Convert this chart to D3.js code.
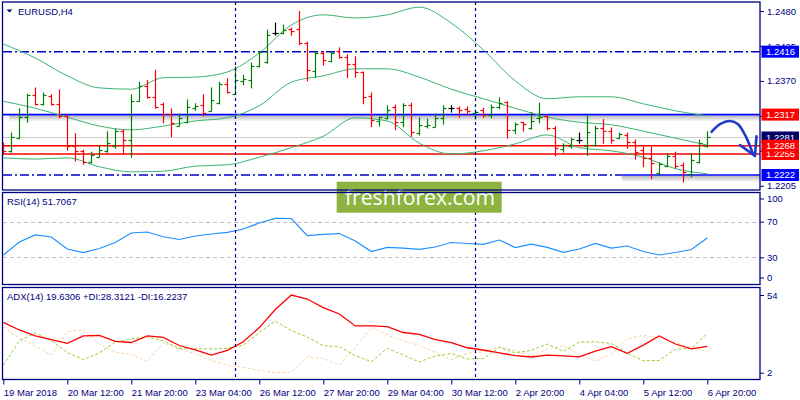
<!DOCTYPE html>
<html><head><meta charset="utf-8">
<script src="https://cdn.jsdelivr.net/npm/d3@7"></script>
<style>
body{margin:0;background:#fff;}
svg{display:block;font-family:"Liberation Sans",Arial,sans-serif;}
</style>
</head><body>
<svg id="c" width="800" height="400"></svg>
<script>
// ---------------- DATA (EURUSD H4) ----------------
const symbol = "EURUSD,H4";
const open = [1.2266,1.2260,1.2280,1.2313,1.2348,1.2334,1.2346,1.2334,1.2315,1.2268,
1.2260,1.2242,1.2250,1.2260,1.2268,1.2291,1.2277,1.2338,1.2362,1.2345,
1.2334,1.2318,1.2299,1.2305,1.2327,1.2332,1.2323,1.2335,1.2365,1.2349,
1.2370,1.2371,1.2394,1.2400,1.2445,1.2445,1.2452,1.2452,1.2430,1.2386,
1.2414,1.2401,1.2417,1.2408,1.2397,1.2384,1.2346,1.2307,1.2312,1.2329,
1.2305,1.2332,1.2288,1.2299,1.2298,1.2312,1.2327,1.2327,1.2326,1.2320,
1.2324,1.2316,1.2329,1.2337,1.2293,1.2305,1.2296,1.2312,1.2315,1.2296,
1.2263,1.2268,1.2277,1.2268,1.2269,1.2296,1.2291,1.2280,1.2285,1.2274,
1.2261,1.2249,1.2225,1.2236,1.2252,1.2238,1.2224,1.2242,1.2268];
const high = [1.2272,1.2288,1.2326,1.2349,1.2359,1.2351,1.2348,1.2356,1.2316,1.2287,
1.2261,1.2258,1.2268,1.2290,1.2294,1.2293,1.2348,1.2368,1.2371,1.2387,
1.2335,1.2326,1.2318,1.2340,1.2334,1.2348,1.2359,1.2368,1.2373,1.2392,
1.2379,1.2398,1.2416,1.2450,1.2461,1.2458,1.2453,1.2479,1.2431,1.2416,
1.2416,1.2416,1.2422,1.2411,1.2408,1.2384,1.2351,1.2313,1.2331,1.2332,
1.2334,1.2335,1.2312,1.2310,1.2318,1.2331,1.2331,1.2329,1.2329,1.2324,
1.2327,1.2332,1.2343,1.2337,1.2304,1.2305,1.2320,1.2335,1.2316,1.2298,
1.2271,1.2280,1.2288,1.2315,1.2299,1.2309,1.2296,1.2288,1.2288,1.2277,
1.2266,1.2266,1.2241,1.2255,1.2258,1.2241,1.2255,1.2277,1.2290];
const low = [1.2255,1.2258,1.2279,1.2305,1.2332,1.2332,1.2332,1.2312,1.2261,1.2244,
1.2239,1.2241,1.2250,1.2258,1.2264,1.2255,1.2250,1.2338,1.2343,1.2327,
1.2304,1.2282,1.2299,1.2304,1.2324,1.2315,1.2323,1.2334,1.2351,1.2349,
1.2364,1.2359,1.2392,1.2398,1.2442,1.2444,1.2442,1.2427,1.2370,1.2376,
1.2395,1.2400,1.2406,1.2375,1.2376,1.2334,1.2298,1.2299,1.2310,1.2293,
1.2298,1.2283,1.2285,1.2296,1.2298,1.2302,1.2321,1.2313,1.2316,1.2310,
1.2313,1.2312,1.2326,1.2280,1.2287,1.2291,1.2294,1.2304,1.2293,1.2252,
1.2258,1.2264,1.2272,1.2253,1.2268,1.2272,1.2272,1.2279,1.2264,1.2247,
1.2235,1.2216,1.2222,1.2235,1.2233,1.2211,1.2219,1.2241,1.2266];
const close = [1.2260,1.2282,1.2313,1.2348,1.2334,1.2348,1.2334,1.2315,1.2268,1.2260,
1.2242,1.2253,1.2261,1.2272,1.2291,1.2277,1.2338,1.2362,1.2345,1.2329,
1.2318,1.2304,1.2312,1.2329,1.2331,1.2320,1.2340,1.2365,1.2353,1.2371,
1.2373,1.2394,1.2416,1.2442,1.2445,1.2450,1.2449,1.2430,1.2387,1.2414,
1.2403,1.2414,1.2408,1.2397,1.2384,1.2345,1.2309,1.2313,1.2324,1.2305,
1.2332,1.2290,1.2301,1.2301,1.2312,1.2327,1.2327,1.2324,1.2323,1.2321,
1.2316,1.2329,1.2335,1.2293,1.2302,1.2302,1.2307,1.2313,1.2296,1.2265,
1.2269,1.2279,1.2277,1.2290,1.2296,1.2291,1.2277,1.2287,1.2274,1.2258,
1.2249,1.2241,1.2239,1.2252,1.2236,1.2227,1.2246,1.2272,1.2281];

// Bollinger bands (sampled every 4 bars)
const bbStep = 4;
const bbUpper = [1.2428,1.2406,1.2378,1.2359,1.2357,1.2375,1.2376,1.2384,1.2414,1.2458,1.2474,1.2469,1.2474,1.2486,1.2461,1.2419,1.2370,1.2342,1.2345,1.2345,1.2334,1.2323,1.2315];
const bbMiddle = [1.2338,1.2327,1.2313,1.2299,1.2293,1.2299,1.2307,1.2312,1.2331,1.2368,1.2378,1.2389,1.2389,1.2376,1.2357,1.2342,1.2327,1.2313,1.2305,1.2301,1.2291,1.2280,1.2269];
const bbLower = [1.2249,1.2247,1.2249,1.2235,1.2227,1.2228,1.2236,1.2238,1.2250,1.2265,1.2283,1.2312,1.2307,1.2272,1.2255,1.2260,1.2271,1.2285,1.2265,1.2260,1.2250,1.2232,1.2224];

// Indicators (sampled every 2 bars)
const indStep = 2;
const rsi = [32.6,47.2,55.1,52.8,39.3,35.2,39.9,46.6,57.3,58.4,53.1,50.0,53.9,56.2,58.1,61.8,68.5,73.8,73.6,54.3,55.8,56.7,48.3,36.5,41.2,40.4,39.0,41.6,46.6,45.5,44.6,49.4,41.0,44.9,41.2,35.6,39.3,45.7,40.4,42.7,36.5,32.6,35.4,38.8,51.7];
const adx = [35.7,30.6,26.6,24.2,21.7,26.6,26.9,22.9,22.2,26.6,25.6,20.2,17.3,13.8,16.9,22.7,32.2,44.3,54.0,51.3,45.6,41.3,33.3,33.3,32.9,28.9,27.6,24.2,22.2,18.7,17.2,15.3,13.4,12.5,13.8,13.2,12.6,16.5,19.4,15.0,20.5,26.6,21.2,17.9,19.6];
const plusDI = [7.1,23.2,28.6,23.4,15.5,10.8,15.2,22.5,24.5,26.1,23.2,18.4,18.1,17.9,18.3,20.5,28.8,36.6,30.2,25.9,20.0,19.5,13.4,9.4,18.3,13.8,9.2,13.2,14.8,11.2,11.4,18.9,15.3,16.9,21.2,16.2,22.5,22.7,21.5,15.0,10.0,10.2,17.7,18.2,28.3];
const minusDI = [32.8,25.2,19.9,13.8,29.4,30.6,21.2,15.8,14.2,9.8,21.7,17.9,14.8,10.2,7.1,5.5,3.5,2.0,2.3,12.7,11.5,7.1,18.9,32.4,27.2,23.5,20.2,15.5,10.5,15.0,16.0,19.3,16.9,13.2,17.9,20.1,14.3,9.7,14.5,24.5,27.2,25.2,21.9,18.9,16.2];

const rsiLabel = "RSI(14) 51.7067";
const adxLabel = "ADX(14) 19.6306 +DI:28.3121 -DI:16.2237";

// axis labels
const priceTicks = [1.2480,1.2425,1.2370,1.2315,1.2260,1.2205];
const rsiTicks = [100,70,30,0];
const rsiLevels = [70,30];
const adxTicks = [54,2];
const timeTickIdx = [0,8,16,24,32,40,48,56,64,72,80,88];
const timeLabels = ["19 Mar 2018","20 Mar 12:00","21 Mar 20:00","23 Mar 04:00","26 Mar 12:00","27 Mar 20:00","29 Mar 04:00","30 Mar 12:00","2 Apr 20:00","4 Apr 04:00","5 Apr 12:00","6 Apr 20:00"];
const weekSeparators = [29,59];

// horizontal levels
const resistanceDashed = 1.2416;
const supportLevel = 1.2222;
const supportSolidFrom = 77.3;   // bar index where solid support starts
const blueLevel = 1.2317;
const redLevels = [1.2268,1.2255];
const bidLevel = 1.2281;
const levelLabels = [1.2416,1.2317,1.2281,1.2255,1.2268,1.2222];

// arrow annotation (bar index, price)
const arrowCurve = [[88.53,1.2290],[89.59,1.2302],[90.84,1.2307],[91.84,1.2302],[92.84,1.2282],[93.71,1.2255]];
const arrowHead = [[92.09,1.2269],[93.96,1.2252],[94.15,1.2283]];

// ---------------- LAYOUT ----------------
const L = 3, R = 760;
const mainP = {t:2, b:190}, rsiP = {t:192.5, b:284.5}, adxP = {t:287.5, b:379.5};
const NAVY = "#000080";

const svg = d3.select("#c");
const defs = svg.append("defs");
[["cMain",mainP],["cRsi",rsiP],["cAdx",adxP]].forEach(([id,p])=>{
  defs.append("clipPath").attr("id",id).append("rect")
    .attr("x",L).attr("y",p.t).attr("width",R-L).attr("height",p.b-p.t);
});
const grad = defs.append("linearGradient").attr("id","shadow").attr("x1",0).attr("x2",0).attr("y1",0).attr("y2",1);
grad.append("stop").attr("offset","0%").attr("stop-color","#000").attr("stop-opacity",0.28);
grad.append("stop").attr("offset","100%").attr("stop-color","#000").attr("stop-opacity",0);

const x = d3.scaleLinear().domain([0,88]).range([3.3,707.3]);
const yP = d3.scaleLinear().domain([1.2205,1.2480]).range([185.8,11.0]);
const yR = d3.scaleLinear().domain([0,100]).range([284,195]);
const yA = d3.scaleLinear().domain([2,54]).range([372.7,295]);
const px = v => Math.round(v)+0.5;

svg.append("rect").attr("width",800).attr("height",400).attr("fill","#fff");

// ---------- main panel ----------
const gm = svg.append("g").attr("clip-path","url(#cMain)");

// shadows under drawn lines
gm.append("rect").attr("x",L+6).attr("y",yP(blueLevel)+1).attr("width",R-L-6).attr("height",6).attr("fill","url(#shadow)");
gm.append("rect").attr("x",x(supportSolidFrom)).attr("y",yP(supportLevel)+1).attr("width",R-x(supportSolidFrom)).attr("height",6).attr("fill","url(#shadow)");

gm.append("line").attr("x1",L).attr("x2",R).attr("y1",px(yP(bidLevel))).attr("y2",px(yP(bidLevel)))
  .attr("stroke","#d0d0d0").attr("stroke-width",1);
redLevels.forEach(v=>{
  gm.append("line").attr("x1",L).attr("x2",R).attr("y1",yP(v)).attr("y2",yP(v))
    .attr("stroke","#ff0000").attr("stroke-width",1.4);
});
gm.append("line").attr("x1",L).attr("x2",R).attr("y1",yP(blueLevel)).attr("y2",yP(blueLevel))
  .attr("stroke","#0000ff").attr("stroke-width",1.6);
gm.append("line").attr("x1",L).attr("x2",R).attr("y1",yP(resistanceDashed)).attr("y2",yP(resistanceDashed))
  .attr("stroke","#0000c8").attr("stroke-width",1.4).attr("stroke-dasharray","9,3,2,3");
gm.append("line").attr("x1",L).attr("x2",x(supportSolidFrom)).attr("y1",yP(supportLevel)).attr("y2",yP(supportLevel))
  .attr("stroke","#0000c8").attr("stroke-width",1.4).attr("stroke-dasharray","9,3,2,3");
gm.append("line").attr("x1",x(supportSolidFrom)).attr("x2",R).attr("y1",yP(supportLevel)).attr("y2",yP(supportLevel))
  .attr("stroke","#0000ff").attr("stroke-width",1.6);

// bollinger bands
const bbLine = d3.line().x((d,k)=>x(k*bbStep)).y(d=>yP(d)).curve(d3.curveMonotoneX);
[bbUpper,bbMiddle,bbLower].forEach(arr=>{
  gm.append("path").attr("d",bbLine(arr)).attr("fill","none").attr("stroke","#3cb371").attr("stroke-width",1);
});

// OHLC bars
const bars = gm.append("g");
open.forEach((o,i)=>{
  const c = close[i];
  const col = c>o ? "#008000" : (c<o ? "#ff0000" : "#000000");
  const xi = px(x(i));
  const g = bars.append("g").attr("stroke",col).attr("stroke-width",1.2);
  g.append("line").attr("x1",xi).attr("x2",xi).attr("y1",yP(high[i])-0.5).attr("y2",yP(low[i])+0.5);
  g.append("line").attr("x1",xi-3).attr("x2",xi).attr("y1",px(yP(o))).attr("y2",px(yP(o)));
  g.append("line").attr("x1",xi).attr("x2",xi+3).attr("y1",px(yP(c))).attr("y2",px(yP(c)));
});

// arrow annotation
const arrowLine = d3.line().x(d=>x(d[0])).y(d=>yP(d[1])).curve(d3.curveCatmullRom);
svg.append("path").attr("d",arrowLine(arrowCurve)).attr("fill","none").attr("stroke","#1e3cc8")
  .attr("stroke-width",2.6).attr("stroke-linecap","round");
svg.append("path").attr("d",d3.line().x(d=>x(d[0])).y(d=>yP(d[1]))(arrowHead)).attr("fill","none")
  .attr("stroke","#1e3cc8").attr("stroke-width",2.6).attr("stroke-linecap","round").attr("stroke-linejoin","round");

// ---------- RSI panel ----------
const gr = svg.append("g").attr("clip-path","url(#cRsi)");
rsiLevels.forEach(v=>{
  gr.append("line").attr("x1",L).attr("x2",R).attr("y1",px(yR(v))).attr("y2",px(yR(v)))
    .attr("stroke","#c0c0c0").attr("stroke-dasharray","4,3");
});
gr.append("path").attr("d",d3.line().x((d,k)=>x(k*indStep)).y(d=>yR(d))(rsi))
  .attr("fill","none").attr("stroke","#1e90ff").attr("stroke-width",1.2);

// ---------- ADX panel ----------
const ga = svg.append("g").attr("clip-path","url(#cAdx)");
const il = d3.line().x((d,k)=>x(k*indStep)).y(d=>yA(d));
ga.append("path").attr("d",il(minusDI)).attr("fill","none").attr("stroke","#f5d3a6").attr("stroke-width",1).attr("stroke-dasharray","3,2");
ga.append("path").attr("d",il(plusDI)).attr("fill","none").attr("stroke","#9acd32").attr("stroke-width",1).attr("stroke-dasharray","3,2");
ga.append("path").attr("d",il(adx)).attr("fill","none").attr("stroke","#ff0000").attr("stroke-width",1.3);

// week separators
weekSeparators.forEach(i=>{
  svg.append("line").attr("x1",px(x(i))).attr("x2",px(x(i))).attr("y1",mainP.t).attr("y2",adxP.b)
    .attr("stroke",NAVY).attr("stroke-width",1.2).attr("stroke-dasharray","3,3");
});

// watermark
svg.append("rect").attr("x",336.7).attr("y",181.7).attr("width",165).attr("height",31).attr("fill","#8db440");
svg.append("text").attr("x",345).attr("y",205).attr("fill","#fff").style("font-family","'Open Sans',sans-serif")
  .style("font-size","22px").attr("textLength",150).attr("lengthAdjust","spacingAndGlyphs").text("freshforex.com");

// panel borders
[mainP,rsiP,adxP].forEach(p=>{
  svg.append("rect").attr("x",L-0.5).attr("y",p.t).attr("width",R-L+0.5).attr("height",p.b-p.t)
    .attr("fill","none").attr("stroke",NAVY).attr("stroke-width",1.3);
});

// ---------- axes ----------
const fs = "9.5px";
const styleAxis = g=>{
  g.select(".domain").remove();
  g.selectAll(".tick line").attr("stroke",NAVY);
  g.selectAll(".tick text").attr("fill",NAVY).style("font-size",fs).style("font-family","'Liberation Sans',Arial,sans-serif");
};
svg.append("g").attr("transform",`translate(${R},0)`)
  .call(d3.axisRight(yP).tickValues(priceTicks).tickSize(4).tickPadding(3).tickFormat(d3.format(".4f")))
  .call(styleAxis);

const rAx = svg.append("g").attr("transform",`translate(${R},0)`)
  .call(d3.axisRight(yR).tickValues(rsiTicks).tickSize(4).tickPadding(3).tickFormat(d3.format("d")))
  .call(styleAxis);
rAx.selectAll(".tick").filter(d=>d===100).attr("transform",`translate(0,${yR(100)+4})`);
rAx.selectAll(".tick").filter(d=>d===0).attr("transform",`translate(0,${yR(0)-6})`);

svg.append("g").attr("transform",`translate(${R},0)`)
  .call(d3.axisRight(yA).tickValues(adxTicks).tickSize(4).tickPadding(3).tickFormat(d3.format("d")))
  .call(styleAxis);

const xAx = svg.append("g").attr("transform",`translate(0,${adxP.b})`)
  .call(d3.axisBottom(x).tickValues(timeTickIdx).tickSize(5).tickPadding(3).tickFormat((d,k)=>timeLabels[k]))
  .call(styleAxis);
xAx.selectAll(".tick text").attr("text-anchor","start").attr("x",0).attr("dy","0.9em");

// price level labels on the right axis
const levelColor = v => (v===1.2416||v===1.2222) ? "#0000ff" : (v===1.2281 ? "#000066" : "#ff0000");
levelLabels.forEach(v=>{
  const yy = yP(v);
  svg.append("rect").attr("x",R+1.5).attr("y",yy-6).attr("width",37.5).attr("height",12).attr("fill",levelColor(v));
  svg.append("text").attr("x",R+6).attr("y",yy).attr("dy","0.35em").attr("fill","#fff")
    .style("font-size",fs).text(d3.format(".4f")(v));
});

// titles
svg.append("path").attr("d","M6.5,9.5 L12.5,9.5 L9.5,12.5 Z").attr("fill",NAVY);
svg.append("text").attr("x",18).attr("y",14.5).attr("fill",NAVY).style("font-size",fs).text(symbol);
svg.append("text").attr("x",7).attr("y",205).attr("fill",NAVY).style("font-size",fs).text(rsiLabel);
svg.append("text").attr("x",7).attr("y",300).attr("fill",NAVY).style("font-size",fs).text(adxLabel);
</script>
</body></html>
